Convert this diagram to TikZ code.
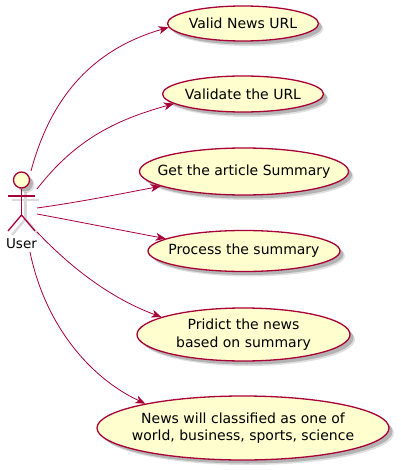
\documentclass[tikz,border=0pt]{standalone}
\usepackage{fontspec}
\setmainfont{DejaVu Sans}
\usetikzlibrary{arrows.meta,shapes.geometric,shadows}
\definecolor{umlfill}{HTML}{FEFECE}
\definecolor{umlline}{HTML}{A80036}
\tikzset{
  softshadow/.style={
    general shadow={shadow xshift=5pt,shadow yshift=-5pt,fill=black,opacity=0.12},
    general shadow={shadow xshift=3.5pt,shadow yshift=-3.5pt,fill=black,opacity=0.2}},
  usecase/.style={ellipse,draw=umlline,line width=1.3pt,fill=umlfill,inner xsep=-14pt,inner ysep=-6pt,align=center,
    font=\fontsize{14}{17.3}\selectfont,softshadow},
  link/.style={draw=umlline,line width=0.8pt,-{Stealth[length=10pt,width=8pt,inset=3pt]}},
  limb/.style={draw=umlline,line width=1.3pt},
  limbshadow/.style={draw=black!15,line width=2.5pt},
}
\begin{document}
\begin{tikzpicture}[x=1pt,y=-1pt]
  \useasboundingbox (0,0) rectangle (400,470);
  \node[usecase,minimum width=151pt,minimum height=35pt] (valid) at (243,23.5) {Valid News URL};
  \node[usecase,minimum width=161pt,minimum height=36pt] (validate) at (243,94) {Validate the URL};
  \node[usecase,minimum width=209pt,minimum height=47pt] (article) at (244,171.5) {Get the article Summary};
  \node[usecase,minimum width=192pt,minimum height=41pt] (process) at (244,251) {Process the summary};
  \node[usecase,minimum width=213pt,minimum height=53pt] (predict) at (243.5,334.5) {Pridict the news\\based on summary};
  \node[usecase,minimum width=292pt,minimum height=64pt] (classify) at (243,428) {News will classified as one of\\world, business, sports, science};

  \coordinate (neck) at (21.5,188);
  \coordinate (handl) at (8,196);
  \coordinate (handr) at (35,196);
  \coordinate (hip) at (21.5,215);
  \coordinate (footl) at (8,231);
  \coordinate (footr) at (35,231);
  \draw[limbshadow] ([shift={(4pt,-4pt)}]neck) -- ([shift={(4pt,-4pt)}]hip);
  \draw[limbshadow] ([shift={(4pt,-4pt)}]handl) -- ([shift={(4pt,-4pt)}]handr);
  \draw[limbshadow] ([shift={(4pt,-4pt)}]footl) -- ([shift={(4pt,-4pt)}]hip) -- ([shift={(4pt,-4pt)}]footr);
  \node[circle,draw=umlline,line width=1.3pt,fill=umlfill,minimum size=16pt,inner sep=0pt,softshadow] (head) at (21.5,180) {};
  \draw[limb] (head.south) -- (hip);
  \draw[limb] (handl) -- (handr);
  \draw[limb] (footl) -- (hip) -- (footr);
  \node[font=\fontsize{13.5}{16}\selectfont,inner sep=0pt] (user) at (21.5,244) {User};

  \coordinate (u1) at (31,171);
  \coordinate (u2) at (37,189);
  \coordinate (u3) at (37,208);
  \coordinate (u4) at (37,214);
  \coordinate (u5) at (37,232);
  \coordinate (u6) at (30,252);
  \draw[link] (u1) .. controls (50,100) and (90,50) .. (valid.183.5);
  \draw[link] (u2) .. controls (75,140) and (115,120) .. (validate.188);
  \draw[link] (u3) .. controls (80,202) and (120,194) .. (article.190);
  \draw[link] (u4) .. controls (80,222) and (125,231) .. (process.171.5);
  \draw[link] (u5) .. controls (75,272) and (115,300) .. (predict.168);
  \draw[link] (u6) .. controls (45,325) and (90,378) .. (classify.166.6);
\end{tikzpicture}
\end{document}
